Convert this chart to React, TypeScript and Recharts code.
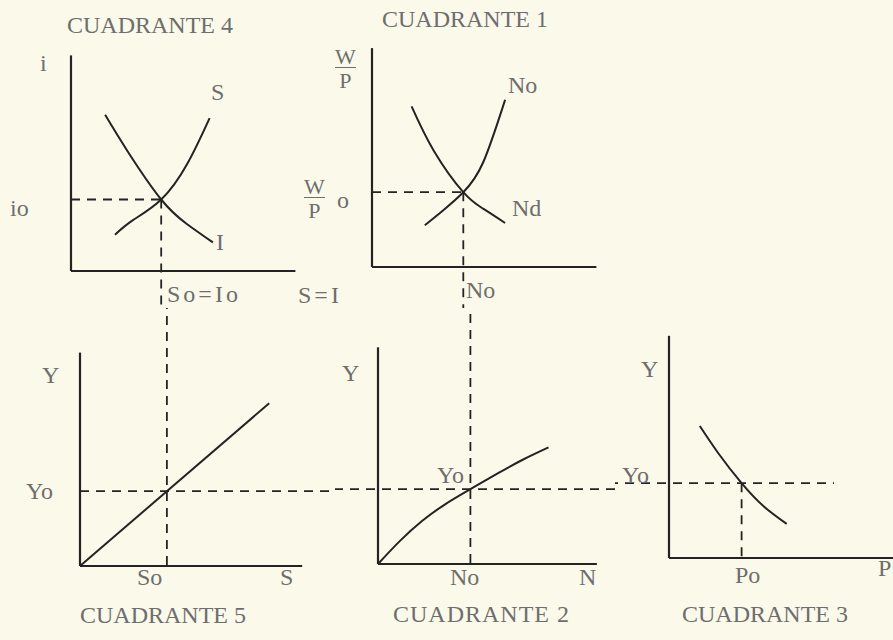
import type { CSSProperties, ReactNode } from "react";
import { Line, LineChart, ReferenceLine, XAxis, YAxis } from "recharts";

// Curves for each quadrant, in axis units (origin at 0,0)
const savingCurve = [
	{ x: 2.0, y: 1.65 },
	{ x: 2.8, y: 2.3 },
	{ x: 4.1, y: 3.25 },
	{ x: 5.3, y: 4.9 },
	{ x: 6.3, y: 6.95 },
];
const investmentCurve = [
	{ x: 1.55, y: 7.1 },
	{ x: 2.6, y: 5.4 },
	{ x: 4.1, y: 3.25 },
	{ x: 5.25, y: 2.15 },
	{ x: 6.45, y: 1.3 },
];
const laborSupply = [
	{ x: 2.4, y: 1.9 },
	{ x: 3.2, y: 2.55 },
	{ x: 4.15, y: 3.4 },
	{ x: 5.05, y: 4.75 },
	{ x: 6.05, y: 7.6 },
];
const laborDemand = [
	{ x: 1.8, y: 7.3 },
	{ x: 2.8, y: 5.3 },
	{ x: 4.15, y: 3.4 },
	{ x: 5.05, y: 2.65 },
	{ x: 6.05, y: 2.0 },
];
const savingIncome = [
	{ x: 0, y: 0 },
	{ x: 8.6, y: 7.4 },
];
const production = [
	{ x: 0, y: 0 },
	{ x: 1, y: 1.05 },
	{ x: 2, y: 1.95 },
	{ x: 3, y: 2.68 },
	{ x: 4.2, y: 3.4 },
	{ x: 5.5, y: 4.15 },
	{ x: 6.6, y: 4.75 },
	{ x: 7.75, y: 5.3 },
];
const priceCurve = [
	{ x: 1.4, y: 6.0 },
	{ x: 2.25, y: 4.75 },
	{ x: 3.3, y: 3.4 },
	{ x: 4.3, y: 2.35 },
	{ x: 5.35, y: 1.55 },
];

// Equilibrium values
const i0 = 3.25;
const so0 = 4.1;
const wp0 = 3.4;
const n0 = 4.15;
const yo = 3.4;
const so5 = 3.95;
const n2 = 4.2;
const po = 3.3;

const UNIT = 22;
const INK = "#232323";
const TEXT = "#6e6e6e";
const DASH = "9 7";

type Box = { left: number; top: number; width: number; height: number };

interface PanelProps {
	box: Box;
	origin: [number, number];
	xLen: number;
	yLen: number;
	children: ReactNode;
}

const Panel = ({ box, origin, xLen, yLen, children }: PanelProps) => {
	const xDomain = [
		(box.left - origin[0]) / UNIT,
		(box.left + box.width - origin[0]) / UNIT,
	];
	const yDomain = [
		(origin[1] - box.top - box.height) / UNIT,
		(origin[1] - box.top) / UNIT,
	];
	return (
		<div style={{ position: "absolute", left: box.left, top: box.top }}>
			<LineChart
				width={box.width}
				height={box.height}
				margin={{ top: 0, right: 0, bottom: 0, left: 0 }}
			>
				<XAxis type="number" dataKey="x" domain={xDomain} hide allowDataOverflow />
				<YAxis type="number" dataKey="y" domain={yDomain} hide allowDataOverflow />
				<ReferenceLine
					segment={[
						{ x: 0, y: 0 },
						{ x: xLen, y: 0 },
					]}
					stroke={INK}
					strokeWidth={2.2}
					ifOverflow="visible"
				/>
				<ReferenceLine
					segment={[
						{ x: 0, y: 0 },
						{ x: 0, y: yLen },
					]}
					stroke={INK}
					strokeWidth={2.2}
					ifOverflow="visible"
				/>
				{children}
			</LineChart>
		</div>
	);
};

const guide = (a: { x: number; y: number }, b: { x: number; y: number }, key: string) => (
	<ReferenceLine
		key={key}
		segment={[a, b]}
		stroke={INK}
		strokeWidth={1.8}
		strokeDasharray={DASH}
		ifOverflow="visible"
	/>
);

const curve = (data: { x: number; y: number }[], key: string, type: "natural" | "linear" = "natural") => (
	<Line
		key={key}
		data={data}
		dataKey="y"
		type={type}
		stroke={INK}
		strokeWidth={2}
		dot={false}
		isAnimationActive={false}
	/>
);

const font: CSSProperties = {
	position: "absolute",
	fontFamily: "'Liberation Serif', serif",
	fontSize: 24,
	lineHeight: "24px",
	color: TEXT,
	whiteSpace: "nowrap",
};

const Txt = ({ x, y, children, spacing = 0 }: { x: number; y: number; children: ReactNode; spacing?: number }) => (
	<div style={{ ...font, left: x, top: y - 4, letterSpacing: spacing }}>{children}</div>
);

const Ratio = ({ x, y }: { x: number; y: number }) => (
	<div
		style={{
			...font,
			fontSize: 22,
			left: x,
			top: y - 3,
			display: "flex",
			flexDirection: "column",
			alignItems: "center",
		}}
	>
		<span style={{ lineHeight: "20px", borderBottom: `1.5px solid ${TEXT}` }}>W</span>
		<span style={{ lineHeight: "22px", marginTop: 2 }}>P</span>
	</div>
);

export default function App() {
	return (
		<div
			style={{
				position: "absolute",
				left: 0,
				top: 0,
				width: 893,
				height: 640,
				background: "#fbfaea",
				overflow: "hidden",
			}}
		>
			{/* Cuadrante 4: ahorro e inversión */}
			<Panel box={{ left: 0, top: 40, width: 330, height: 268 }} origin={[71, 271]} xLen={10.2} yLen={9.8}>
				{guide({ x: 0, y: i0 }, { x: so0, y: i0 }, "h")}
				{guide({ x: so0, y: i0 }, { x: so0, y: -5 }, "v")}
				{curve(savingCurve, "s")}
				{curve(investmentCurve, "i")}
			</Panel>

			{/* Cuadrante 1: mercado de trabajo */}
			<Panel box={{ left: 330, top: 40, width: 300, height: 268 }} origin={[372, 267]} xLen={10.2} yLen={9.95}>
				{guide({ x: 0, y: wp0 }, { x: n0, y: wp0 }, "h")}
				{guide({ x: n0, y: wp0 }, { x: n0, y: -5 }, "v")}
				{curve(laborSupply, "no")}
				{curve(laborDemand, "nd")}
			</Panel>

			{/* Cuadrante 5 */}
			<Panel box={{ left: 0, top: 308, width: 335, height: 292 }} origin={[80, 566]} xLen={10.1} yLen={9.7}>
				{guide({ x: so5, y: 15 }, { x: so5, y: 0 }, "v")}
				{guide({ x: 0, y: yo }, { x: 20, y: yo }, "h")}
				{curve(savingIncome, "sy", "linear")}
			</Panel>

			{/* Cuadrante 2: función de producción */}
			<Panel box={{ left: 335, top: 308, width: 280, height: 292 }} origin={[378, 564]} xLen={9.95} yLen={9.85}>
				{guide({ x: n2, y: 15 }, { x: n2, y: 0 }, "v")}
				{guide({ x: -10, y: yo }, { x: 20, y: yo }, "h")}
				{curve(production, "y")}
			</Panel>

			{/* Cuadrante 3 */}
			<Panel box={{ left: 615, top: 308, width: 278, height: 292 }} origin={[669, 558]} xLen={10.5} yLen={10.1}>
				{guide({ x: -10, y: yo }, { x: 7.5, y: yo }, "h")}
				{guide({ x: po, y: yo }, { x: po, y: 0 }, "v")}
				{curve(priceCurve, "p")}
			</Panel>

			<Txt x={67} y={17}>CUADRANTE 4</Txt>
			<Txt x={40} y={55}>i</Txt>
			<Txt x={211} y={84}>S</Txt>
			<Txt x={10} y={200}>io</Txt>
			<Txt x={216} y={234}>I</Txt>
			<Txt x={167} y={286} spacing={3}>So=Io</Txt>
			<Txt x={298} y={287} spacing={3}>S=I</Txt>

			<Txt x={382} y={11}>CUADRANTE 1</Txt>
			<Ratio x={335} y={50} />
			<Txt x={508} y={77}>No</Txt>
			<Ratio x={304} y={180} />
			<Txt x={337} y={192}>o</Txt>
			<Txt x={512} y={200}>Nd</Txt>
			<Txt x={466} y={282}>No</Txt>

			<Txt x={42} y={367}>Y</Txt>
			<Txt x={26} y={483}>Yo</Txt>
			<Txt x={137} y={569}>So</Txt>
			<Txt x={280} y={569}>S</Txt>
			<Txt x={80} y={607}>CUADRANTE 5</Txt>

			<Txt x={342} y={365}>Y</Txt>
			<Txt x={437} y={467}>Yo</Txt>
			<Txt x={450} y={569}>No</Txt>
			<Txt x={579} y={569}>N</Txt>
			<Txt x={393} y={606} spacing={1}>CUADRANTE 2</Txt>

			<Txt x={641} y={361}>Y</Txt>
			<Txt x={622} y={467}>Yo</Txt>
			<Txt x={735} y={567}>Po</Txt>
			<Txt x={878} y={560}>P</Txt>
			<Txt x={682} y={606}>CUADRANTE 3</Txt>
		</div>
	);
}
